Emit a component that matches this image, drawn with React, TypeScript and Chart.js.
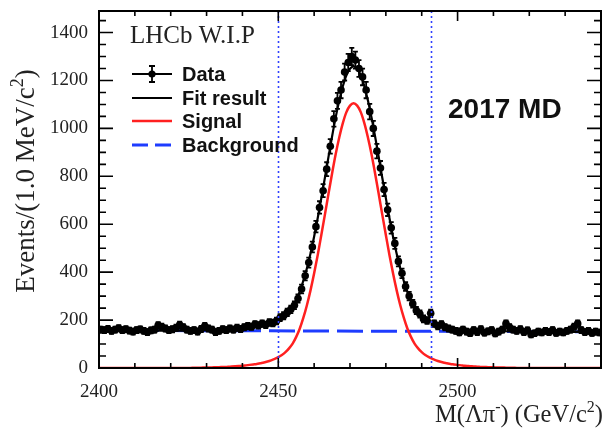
import React, { useEffect, useRef } from 'react';
import { Chart, registerables } from 'chart.js';

Chart.register(...registerables);

// ---- data ----
const BIN_START = 2400; // MeV/c^2, left edge of first 1 MeV bin
const BIN_WIDTH = 1;
const dataCounts = [
  160, 158, 163, 155, 160, 166, 158, 162, 156, 152, 158, 161, 155, 150, 157, 160,
  178, 172, 165, 158, 162, 168, 180, 170,
  160, 155, 158, 152, 163, 175, 165, 160, 150, 155,
  162, 158, 165, 160, 168, 163, 170,
  175, 172, 182, 178, 185, 180, 190, 188, 196,
  210, 218, 232, 245, 262, 290, 330, 385, 440, 505,
  590, 670, 740, 830, 925, 1040, 1115, 1160, 1235, 1275,
  1300, 1285, 1250, 1215, 1160, 1070, 1000, 905, 835, 745,
  660, 585, 520, 445, 395, 340, 300, 268, 240, 225,
  205, 198, 228, 185, 175, 182, 170, 165, 160,
  155, 148, 160, 152, 145, 158, 150, 162, 147, 153, 158, 144, 152, 160,
  185, 170, 160, 155, 162, 150, 157,
  140, 145, 152, 148, 155, 150, 158, 146, 152, 148, 155, 160,
  172, 185, 158, 150, 155, 146, 152, 148,
];

const CURVE_START = 2400;
const CURVE_STEP = 1;
const signalCurve = [
  0, 0, 0, 0, 0, 0, 0, 0, 0, 0, 0, 0, 0, 0, 0, 0, 0, 0, 0, 0, 0, 0, 0, 0, 0, 0,
  1, 1, 1, 2, 2, 2, 3, 3, 4, 4, 5, 6, 7, 8, 9, 11, 13, 15, 17, 20, 23, 27, 32, 38, 45,
  54, 66, 82, 102, 130, 165, 210, 263, 325, 395, 472, 555, 640, 727, 812, 892, 962,
  1022, 1068, 1095,
  1105,
  1095, 1068, 1022, 962, 892, 812, 727, 640, 555, 472, 395, 325, 263, 210, 165, 130,
  102, 82, 66, 54, 45, 38, 32, 27, 23, 20, 17, 15, 13, 11, 9, 8, 7, 6, 5, 4, 4, 3, 3,
  2, 2, 2, 1, 1, 1,
  0, 0, 0, 0, 0, 0, 0, 0, 0, 0, 0, 0, 0, 0, 0, 0, 0, 0, 0, 0, 0, 0, 0, 0,
];
const fitCurve = [
  157, 157, 157, 157, 157, 157, 157, 157, 157, 157, 157, 157,
  156, 156, 156, 156, 156, 156, 156, 156, 156, 156, 156, 156, 156, 156,
  157, 157, 157, 158, 158, 158, 159, 159, 160,
  160, 160, 161, 162, 163, 164, 166, 168, 170, 172, 175, 178, 182, 187, 193, 200, 209,
  221, 237, 257, 285, 320, 365,
  417, 479, 549, 626, 709, 794, 881, 966, 1046, 1116, 1176, 1222, 1249, 1259,
  1249, 1222, 1176, 1116, 1046, 966, 881, 794, 709, 626,
  548, 478, 416, 363, 318, 283, 255, 235, 219, 207, 198, 191, 185, 180, 176, 173, 170,
  168, 166, 164, 162, 161, 160,
  158, 157, 156, 156, 155, 155, 154, 154, 154, 153, 153, 153,
  152, 152, 152, 152, 152, 152, 152, 152, 152, 152, 152,
  151, 151, 151, 151, 151, 151, 151, 151, 151, 151, 151, 151, 151,
];
const bkgX = [2400, 2540];
const bkgY = [157, 151];
const cutLines = [2450, 2492.5];

const xTicks = [2400, 2450, 2500];
const yTicks = [0, 200, 400, 600, 800, 1000, 1200, 1400];
const X_MIN = 2400;
const X_MAX = 2540;
const Y_MIN = 0;
const Y_MAX = 1490;
const X_MINOR = 10;
const Y_MINOR = 50;
const legendLabels = ['Data', 'Fit result', 'Signal', 'Background'];

const SERIF = '"Liberation Serif", "DejaVu Serif", serif';
const SANS = '"Liberation Sans", Arial, sans-serif';
const RED = '#ff2020';
const BLUE = '#1e3cff';

type Seg = { t: string; sup?: boolean };

function drawSegs(ctx: CanvasRenderingContext2D, segs: Seg[], x: number, y: number, size: number, align: 'left' | 'right' | 'center') {
  const supSize = Math.round(size * 0.65);
  const widths = segs.map((s) => {
    ctx.font = `${s.sup ? supSize : size}px ${SERIF}`;
    return ctx.measureText(s.t).width;
  });
  const total = widths.reduce((a, b) => a + b, 0);
  let cx = align === 'left' ? x : align === 'right' ? x - total : x - total / 2;
  ctx.textAlign = 'left';
  ctx.textBaseline = 'alphabetic';
  segs.forEach((s, i) => {
    ctx.font = `${s.sup ? supSize : size}px ${SERIF}`;
    ctx.fillText(s.t, cx, s.sup ? y - size * 0.4 : y);
    cx += widths[i];
  });
}

const decor = {
  id: 'decor',
  afterDatasetsDraw(chart: any) {
    const { ctx, chartArea: a, scales } = chart;
    const xs = scales.x;
    const ys = scales.y;
    ctx.save();
    // error bars on data
    ctx.strokeStyle = '#000';
    ctx.lineWidth = 1.8;
    dataCounts.forEach((n, i) => {
      const xv = BIN_START + (i + 0.5) * BIN_WIDTH;
      const px = xs.getPixelForValue(xv);
      const e = Math.sqrt(n);
      const yTop = ys.getPixelForValue(n + e);
      const yBot = ys.getPixelForValue(n - e);
      const py = ys.getPixelForValue(n);
      ctx.beginPath();
      ctx.moveTo(px, yBot);
      ctx.lineTo(px, yTop);
      ctx.moveTo(px - 2.5, yTop);
      ctx.lineTo(px + 2.5, yTop);
      ctx.moveTo(px - 2.5, yBot);
      ctx.lineTo(px + 2.5, yBot);
      ctx.moveTo(xs.getPixelForValue(xv - BIN_WIDTH / 2), py);
      ctx.lineTo(xs.getPixelForValue(xv + BIN_WIDTH / 2), py);
      ctx.stroke();
    });
    // dotted signal-window lines
    ctx.strokeStyle = '#3040ff';
    ctx.lineWidth = 1.6;
    ctx.setLineDash([2, 3]);
    cutLines.forEach((v) => {
      const px = Math.round(xs.getPixelForValue(v)) + 0.5;
      ctx.beginPath();
      ctx.moveTo(px, a.top);
      ctx.lineTo(px, a.bottom);
      ctx.stroke();
    });
    ctx.restore();
  },
  afterDraw(chart: any) {
    const { ctx, chartArea: a, scales } = chart;
    const xs = scales.x;
    const ys = scales.y;
    ctx.save();
    ctx.strokeStyle = '#000';
    ctx.lineWidth = 2;
    ctx.setLineDash([]);
    ctx.strokeRect(a.left, a.top, a.right - a.left, a.bottom - a.top);
    // x ticks (bottom and top)
    ctx.lineWidth = 1.6;
    ctx.beginPath();
    for (let v = X_MIN; v <= X_MAX; v += X_MINOR) {
      const px = xs.getPixelForValue(v);
      const major = xTicks.includes(v);
      const len = major ? 10 : 5;
      ctx.moveTo(px, a.bottom);
      ctx.lineTo(px, a.bottom - len);
      ctx.moveTo(px, a.top);
      ctx.lineTo(px, a.top + len);
    }
    for (let v = Y_MIN; v <= Y_MAX; v += Y_MINOR) {
      const py = ys.getPixelForValue(v);
      const major = yTicks.includes(v);
      const len = major ? 14 : 7;
      ctx.moveTo(a.left, py);
      ctx.lineTo(a.left + len, py);
      ctx.moveTo(a.right, py);
      ctx.lineTo(a.right - len, py);
    }
    ctx.stroke();

    // texts
    ctx.fillStyle = '#222';
    ctx.font = `25px ${SERIF}`;
    ctx.textAlign = 'left';
    ctx.textBaseline = 'alphabetic';
    ctx.fillText('LHCb W.I.P', 130, 43);

    ctx.fillStyle = '#111';
    ctx.font = `bold 28px ${SANS}`;
    ctx.fillText('2017 MD', 448, 118);

    // legend
    const lx0 = 132;
    const lx1 = 172;
    const rows = [74, 98, 121, 145];
    ctx.strokeStyle = '#000';
    ctx.lineWidth = 1.8;
    ctx.beginPath();
    ctx.moveTo(lx0, rows[0]);
    ctx.lineTo(lx1, rows[0]);
    ctx.moveTo(152, rows[0] - 8);
    ctx.lineTo(152, rows[0] + 8);
    ctx.moveTo(149, rows[0] - 8);
    ctx.lineTo(155, rows[0] - 8);
    ctx.moveTo(149, rows[0] + 8);
    ctx.lineTo(155, rows[0] + 8);
    ctx.stroke();
    ctx.fillStyle = '#000';
    ctx.beginPath();
    ctx.arc(152, rows[0], 3.6, 0, Math.PI * 2);
    ctx.fill();
    ctx.lineWidth = 2.2;
    ctx.beginPath();
    ctx.moveTo(lx0, rows[1]);
    ctx.lineTo(lx1, rows[1]);
    ctx.stroke();
    ctx.strokeStyle = RED;
    ctx.lineWidth = 2.5;
    ctx.beginPath();
    ctx.moveTo(lx0, rows[2]);
    ctx.lineTo(lx1, rows[2]);
    ctx.stroke();
    ctx.strokeStyle = BLUE;
    ctx.lineWidth = 3;
    ctx.setLineDash([16, 7]);
    ctx.beginPath();
    ctx.moveTo(lx0, rows[3]);
    ctx.lineTo(lx1, rows[3]);
    ctx.stroke();
    ctx.setLineDash([]);

    ctx.fillStyle = '#111';
    ctx.font = `bold 20px ${SANS}`;
    legendLabels.forEach((t, i) => {
      ctx.fillText(t, 182, rows[i] + 7);
    });

    // axis titles
    ctx.fillStyle = '#222';
    drawSegs(ctx, [{ t: 'M(Λπ' }, { t: '-', sup: true }, { t: ') (GeV/c' }, { t: '2', sup: true }, { t: ')' }], 603, 422, 24.5, 'right');
    ctx.save();
    ctx.translate(34, 181);
    ctx.rotate(-Math.PI / 2);
    drawSegs(ctx, [{ t: 'Events/(1.0 MeV/c' }, { t: '2', sup: true }, { t: ')' }], 0, 0, 27, 'center');
    ctx.restore();

    ctx.restore();
  },
};

export default function App() {
  const ref = useRef<HTMLCanvasElement | null>(null);
  useEffect(() => {
    if (!ref.current) return;
    const chart = new Chart(ref.current, {
      type: 'scatter',
      data: {
        datasets: [
          {
            label: 'Fit result',
            data: fitCurve.map((v, i) => ({ x: CURVE_START + i * CURVE_STEP, y: v })),
            showLine: true,
            borderColor: '#000',
            borderWidth: 2.2,
            pointRadius: 0,
            cubicInterpolationMode: 'monotone',
            order: 0,
          },
          {
            label: 'Data',
            data: dataCounts.map((v, i) => ({ x: BIN_START + (i + 0.5) * BIN_WIDTH, y: v })),
            showLine: false,
            pointRadius: 3.8,
            pointBackgroundColor: '#000',
            pointBorderColor: '#000',
            pointBorderWidth: 0,
            order: 1,
          },
          {
            label: 'Signal',
            data: signalCurve.map((v, i) => ({ x: CURVE_START + i * CURVE_STEP, y: v })),
            showLine: true,
            borderColor: RED,
            borderWidth: 2.5,
            pointRadius: 0,
            cubicInterpolationMode: 'monotone',
            order: 2,
          },
          {
            label: 'Background',
            data: bkgX.map((v, i) => ({ x: v, y: bkgY[i] })),
            showLine: true,
            borderColor: BLUE,
            borderWidth: 3,
            borderDash: [26, 8],
            pointRadius: 0,
            order: 3,
          },
        ],
      },
      options: {
        animation: false,
        responsive: false,
        maintainAspectRatio: false,
        layout: { padding: { top: 11, right: 3, left: 0, bottom: 0 } },
        plugins: { legend: { display: false }, tooltip: { enabled: false } },
        scales: {
          x: {
            type: 'linear',
            min: X_MIN,
            max: X_MAX,
            afterBuildTicks: (s: any) => {
              s.ticks = xTicks.map((v) => ({ value: v }));
            },
            afterFit: (s: any) => {
              s.height = 63;
              s.paddingLeft = 0;
              s.paddingRight = 0;
            },
            grid: { display: false, drawTicks: false },
            border: { display: false },
            ticks: {
              font: { family: SERIF, size: 19 },
              color: '#222',
              padding: 13,
              maxRotation: 0,
              autoSkip: false,
              callback: (v: any) => String(v),
            },
          },
          y: {
            type: 'linear',
            min: Y_MIN,
            max: Y_MAX,
            afterBuildTicks: (s: any) => {
              s.ticks = yTicks.map((v) => ({ value: v }));
            },
            afterFit: (s: any) => {
              s.width = 99;
              s.paddingTop = 0;
              s.paddingBottom = 0;
            },
            grid: { display: false, drawTicks: false },
            border: { display: false },
            ticks: {
              font: { family: SERIF, size: 19 },
              color: '#222',
              padding: 11,
              autoSkip: false,
              callback: (v: any) => String(v),
            },
          },
        },
      } as any,
      plugins: [decor],
    });
    return () => chart.destroy();
  }, []);
  return (
    <div style={{ position: 'fixed', left: 0, top: 0, width: 605, height: 431, background: '#fff' }}>
      <canvas ref={ref} width={605} height={431} style={{ width: 605, height: 431, display: 'block' }} />
    </div>
  );
}
